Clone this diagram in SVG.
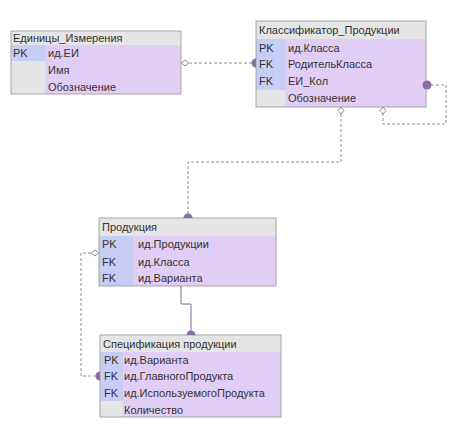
<svg xmlns="http://www.w3.org/2000/svg" width="465" height="425" viewBox="0 0 465 425">
<style>
text{font-family:"Liberation Sans",Arial,sans-serif;font-size:11px;fill:#333}
.hdr{fill:#e5e5e5}
.body{fill:#e0cef6}
.key{fill:#c8cdf6}
.nokey{fill:#e5e5e5}
.frame{fill:none;stroke:#a5a5a5;stroke-width:1}
.dash{fill:none;stroke:#8c8c8c;stroke-width:1;stroke-dasharray:3,2}
.solid{fill:none;stroke:#7d6a8c;stroke-width:1}
.dia{fill:#fff;stroke:#8c8c8c;stroke-width:1}
.dot{fill:#8c6e9e}
</style>
<rect width="465" height="425" fill="#fff"/>
<g id="node-edinicy">
<rect class="body" x="11" y="31" width="170" height="63"/>
<rect class="hdr" x="11" y="31" width="170" height="14"/>
<rect class="key" x="11" y="45" width="34" height="16"/>
<rect class="nokey" x="11" y="61" width="34" height="33"/>
<rect class="frame" x="11" y="31" width="170" height="63"/>
<text x="13" y="42">Единицы_Измерения</text>
<text x="13" y="57">PK</text><text x="48" y="57">ид.ЕИ</text>
<text x="48" y="74">Имя</text>
<text x="48" y="91">Обозначение</text>
</g>
<g id="node-klassifikator">
<rect class="body" x="256" y="21" width="170" height="86"/>
<rect class="hdr" x="256" y="21" width="170" height="18"/>
<rect class="key" x="256" y="39" width="29" height="51"/>
<rect class="nokey" x="256" y="90" width="29" height="17"/>
<rect class="frame" x="256" y="21" width="170" height="86"/>
<text x="259" y="34">Классификатор_Продукции</text>
<text x="259" y="52">PK</text><text x="288" y="52">ид.Класса</text>
<text x="259" y="68">FK</text><text x="288" y="68">РодительКласса</text>
<text x="259" y="85">FK</text><text x="288" y="85">ЕИ_Кол</text>
<text x="288" y="102">Обозначение</text>
</g>
<g id="node-produkciya">
<rect class="body" x="99" y="218" width="177" height="68"/>
<rect class="hdr" x="99" y="218" width="177" height="18"/>
<rect class="key" x="99" y="236" width="34" height="50"/>
<rect class="frame" x="99" y="218" width="177" height="68"/>
<text x="102" y="231">Продукция</text>
<text x="102" y="248">PK</text><text x="138" y="248">ид.Продукции</text>
<text x="102" y="266">FK</text><text x="138" y="266">ид.Класса</text>
<text x="102" y="282">FK</text><text x="138" y="282">ид.Варианта</text>
</g>
<g id="node-specifikaciya">
<rect class="body" x="100" y="335" width="181" height="82"/>
<rect class="hdr" x="100" y="335" width="181" height="17"/>
<rect class="key" x="100" y="352" width="23" height="49"/>
<rect class="nokey" x="100" y="401" width="23" height="16"/>
<rect class="frame" x="100" y="335" width="181" height="82"/>
<text x="103" y="348">Спецификация продукции</text>
<text x="104" y="364">PK</text><text x="124" y="364">ид.Варианта</text>
<text x="104" y="380">FK</text><text x="124" y="380">ид.ГлавногоПродукта</text>
<text x="104" y="397">FK</text><text x="124" y="397">ид.ИспользуемогоПродукта</text>
<text x="124" y="414">Количество</text>
</g>
<g id="connectors">
<path class="dash" d="M189,63 H256"/>
<path class="dia" d="M181.5,63 L185,60 L188.5,63 L185,66 Z"/>
<path class="dot" d="M256,58.5 A4.5,4.5 0 0 0 256,67.5 Z"/>
<path class="dash" d="M431,85 H446 V124 H383 V114"/>
<path class="dia" d="M383,107 L386,110.5 L383,114 L380,110.5 Z"/>
<circle class="dot" cx="427" cy="85" r="4.5"/>
<path class="dash" d="M341,114 V162 H188 V218"/>
<path class="dia" d="M341,107 L344,110.5 L341,114 L338,110.5 Z"/>
<path class="dot" d="M183.5,218 A4.5,4.5 0 0 1 192.5,218 Z"/>
<path class="dash" d="M91,253 H81 V376 H100"/>
<path class="dia" d="M91.5,253 L95,250 L98.5,253 L95,256 Z"/>
<path class="dot" d="M100,371.5 A4.5,4.5 0 0 0 100,380.5 Z"/>
<path class="solid" d="M181,286 V304 H191 V335"/>
<path class="dot" d="M186.5,335 A4.5,4.5 0 0 1 195.5,335 Z"/>
</g>
</svg>
